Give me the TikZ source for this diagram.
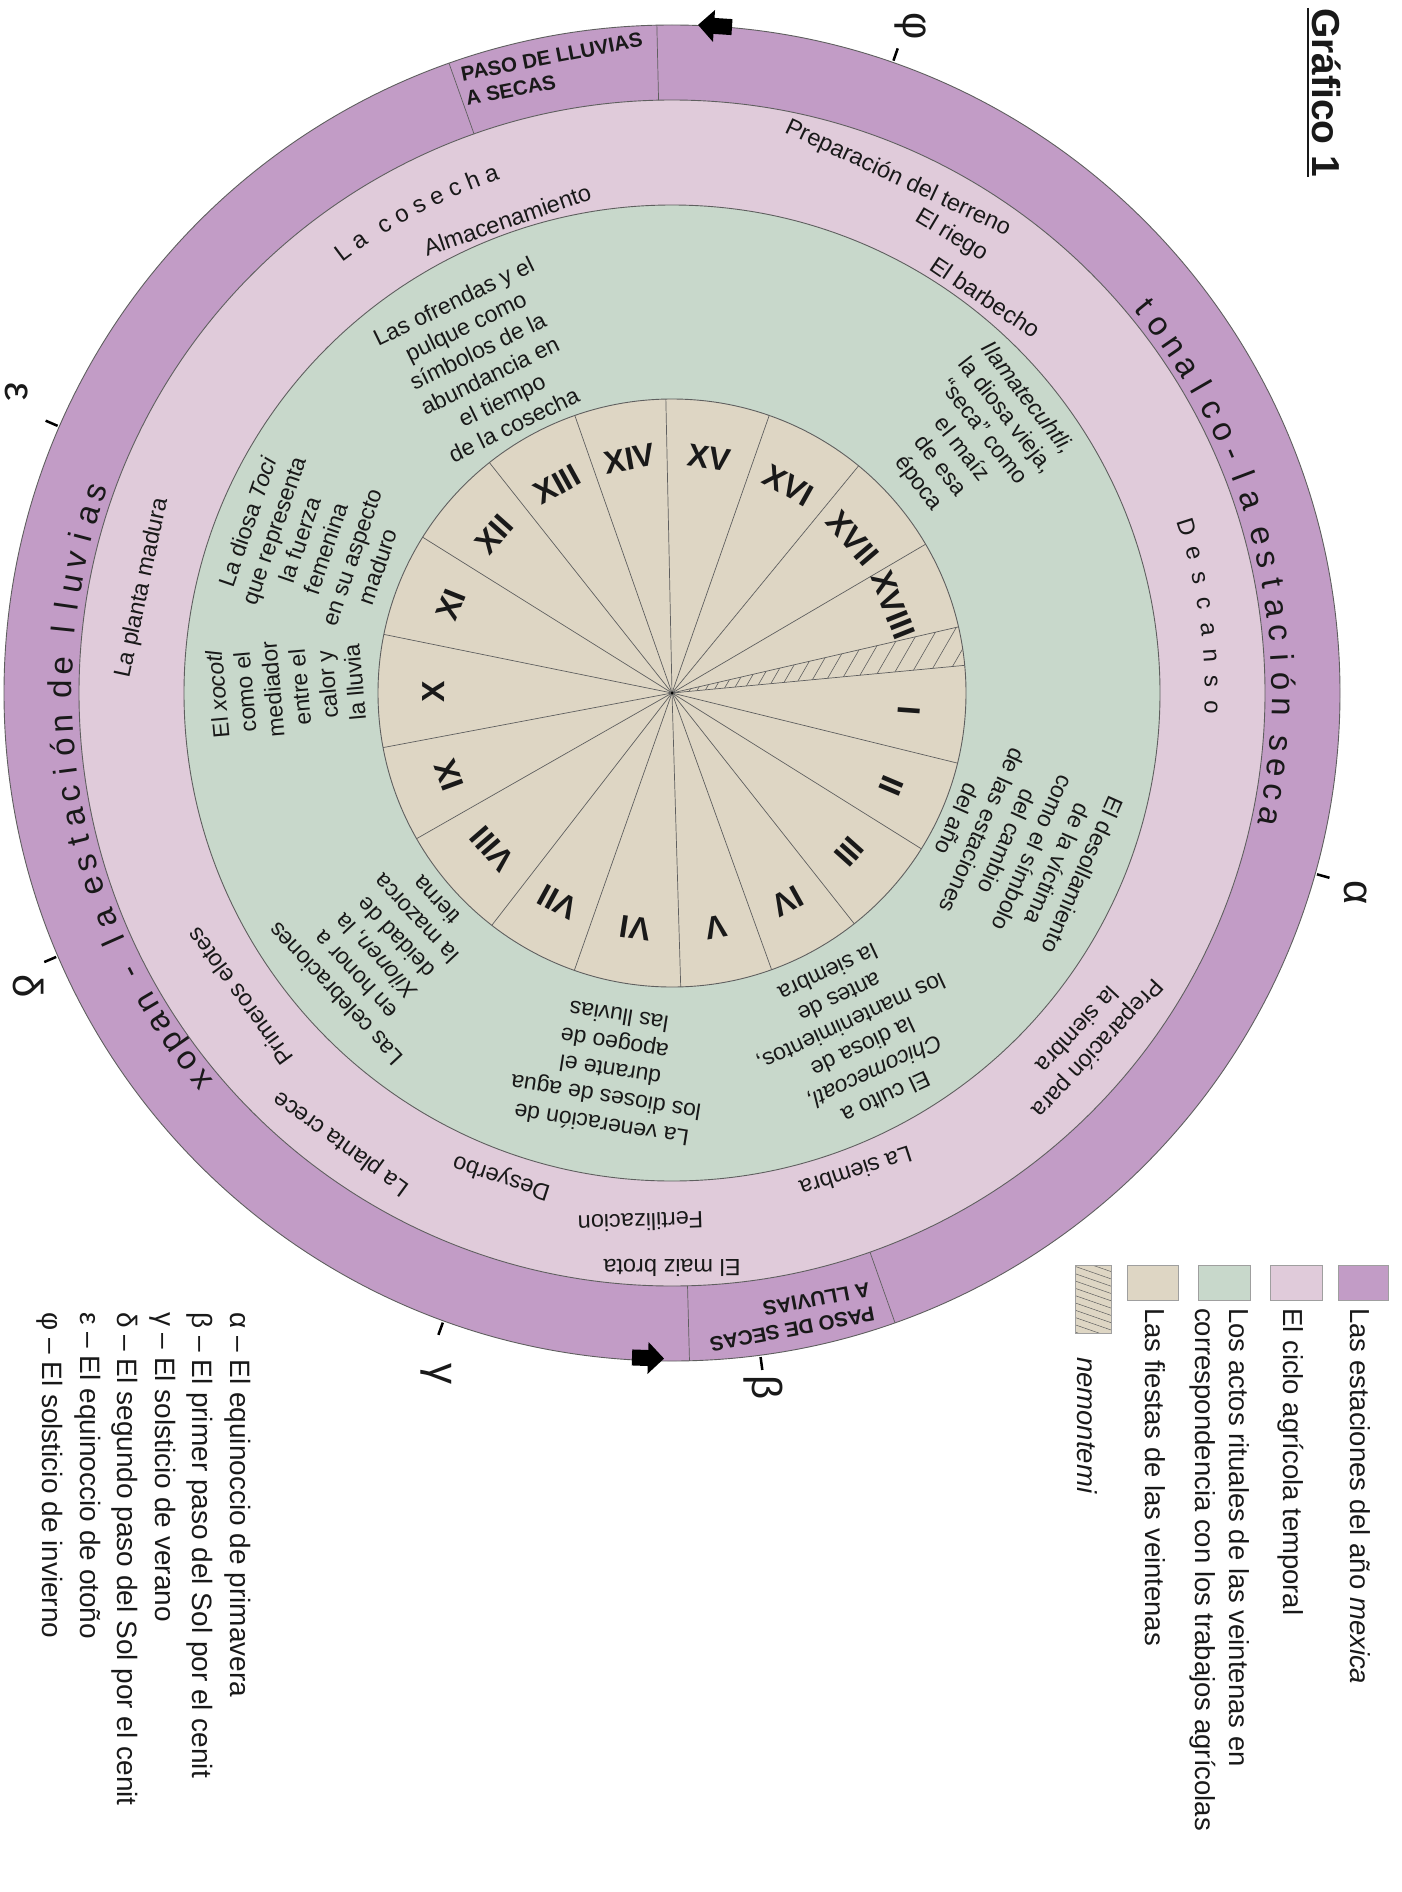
\documentclass[tikz,border=0pt]{standalone}
\usepackage{fontspec}
\setmainfont{Liberation Sans}
\usetikzlibrary{calc}
\definecolor{cPurple}{RGB}{194,156,198}
\definecolor{cPink}{RGB}{224,203,218}
\definecolor{cGreen}{RGB}{200,216,203}
\definecolor{cBeige}{RGB}{222,214,196}
\definecolor{cLine}{RGB}{95,95,95}
\definecolor{cText}{RGB}{25,25,25}
\newcommand{\fsz}[2]{\fontsize{#1}{#2}\selectfont}
\begin{document}
\begin{tikzpicture}[x=1pt,y=1pt,
  ring/.style={draw=cLine, line width=0.9},
  spoke/.style={draw=cLine, line width=0.7},
  num/.style={font=\bfseries\fsz{32}{34}, text=cText, inner sep=0},
  ritual/.style={font=\fsz{23}{27.5}, align=center, text=cText, inner sep=0},
  agri/.style={font=\fsz{23.5}{28}, text=cText, inner sep=0},
  seasonch/.style={font=\fsz{33}{36}, text=cText, inner sep=0, anchor=base},
  agrich/.style={font=\fsz{24}{28}, text=cText, inner sep=0, anchor=base},
  pasotext/.style={font=\bfseries\fsz{20.5}{25}, align=left, text=cText, inner sep=0},
  greek/.style={font=\fsz{42}{44}, text=cText, inner sep=0, rotate=-90},
  tickmark/.style={draw=black, line width=2.5},
  legtext/.style={font=\fsz{27.5}{32}, text=cText, inner sep=0, anchor=base west, rotate=-90},
  listtext/.style={font=\fsz{28}{32}, text=cText, inner sep=0, anchor=base west, rotate=-90},
  swatch/.style={draw=gray!75, line width=0.8},
]
\useasboundingbox (0,0) rectangle (1402,-1892);
\fill[white] (0,0) rectangle (1402,-1892);

\begin{scope}[shift={(672,-693)}]
  % rings
  \filldraw[ring, fill=cPurple] (0,0) circle (668);
  \filldraw[ring, fill=cPink] (0,0) circle (593);
  \filldraw[ring, fill=cGreen] (0,0) circle (488);
  \filldraw[ring, fill=cBeige] (0,0) circle (294);
  % separators in the seasons ring
  \foreach \a in {91.3,109.5,271.5,289.5} \draw[spoke] (\a:593) -- (\a:668);
  % spokes of the veintenas
  \foreach \a in {5.4,13,30.4,50.6,70.7,91.2,109.3,128.4,148,168.5,190.7,209.7,232.2,250.6,271.7,289.8,308.3,328,346.2}
    \draw[spoke] (0,0) -- (\a:294);
  % nemontemi hatch
  \begin{scope}
    \clip (0,0) -- (5.4:294) arc[start angle=5.4, end angle=13, radius=294] -- cycle;
    \foreach \k in {0,...,19} {
      \pgfmathsetmacro\rr{18+8*\k+0.35*\k*\k}
      \draw[cLine, line width=0.6] ($(9.2:\rr)+(240:30)$) -- ($(9.2:\rr)+(60:30)$);
    }
  \end{scope}
  \fill[black] (0,0) circle (1.5);
  % roman numerals
  \foreach \n/\a in {XVIII/21.7, XVII/40.5, XVI/60.65, XV/80.95, XIV/100.25, XIII/118.85, XII/138.2, XI/158.25, X/179.6, IX/200.2, VIII/220.95, VII/241.4, VI/261.15, V/280.75, IV/299.05, III/318.15, II/337.1, I/355.8}
    \node[num, rotate=\a-90] (n\n) at (\a:238) {\n};

  % seasons: curved letter-spaced texts
  \foreach \ch/\ps [count=\ci] in {t/0,o/1,n/2,a/3,l/4,c/5,o/6,-/7,l/8,a/9,e/10.5,s/11.5,t/12.5,a/13.5,c/14.5,i/15.5,ó/16.5,n/17.5,s/19,e/20,c/21,a/22} {
    \pgfmathsetmacro\an{39.3-2.318*\ps}
    \node[seasonch, rotate=\an-90] (tonalco\ci) at (\an:600) {\ch};
  }
  \foreach \ch/\ps [count=\ci] in {x/0,o/1,p/2,a/3,n/4,-/5.5,l/7,a/8,e/9.5,s/10.5,t/11.5,a/12.5,c/13.5,i/14.5,ó/15.5,n/16.5,d/18,e/19,l/20.5,l/21.5,u/22.5,v/23.5,i/24.5,a/25.5,s/26.5} {
    \pgfmathsetmacro\an{219.4-2.21*\ps}
    \node[seasonch, rotate=\an-90] (xopan\ci) at (\an:600) {\ch};
  }
  \node[pasotext, rotate=11] (paso1) at (100.7:635) {PASO DE LLUVIAS\\A SECAS};
  \node[pasotext, rotate=190.7] (paso2) at (280.7:635) {PASO DE SECAS\\A LLUVIAS};

  % agricultural cycle
  \foreach \ch/\ps [count=\ci] in {L/0,a/1,c/2.5,o/3.5,s/4.5,e/5.5,c/6.5,h/7.5,a/8.5} {
    \pgfmathsetmacro\an{126.7-2.06*\ps}
    \node[agrich, rotate=\an-90] (cosecha\ci) at (\an:542) {\ch};
  }
  \foreach \ch/\ps [count=\ci] in {D/0,e/1,s/2,c/3,a/4,n/5,s/6,o/7} {
    \pgfmathsetmacro\an{17.8-2.757*\ps}
    \node[agrich, rotate=\an-90] (descanso\ci) at (\an:533) {\ch};
  }
  \node[agri, rotate=19] (almac) at (109.2:501) {Almacenamiento};
  \node[agri, rotate=-25] (prepter) at (66.3:562) {Preparación del terreno};
  \node[agri, rotate=-31] (riego) at (58.6:536) {El riego};
  \node[agri, rotate=-34] (barb) at (51.6:505) {El barbecho};
  \node[agri, rotate=-133, align=center] (prepsi) at (-39.8:542) {Preparación para\\la siembra};
  \node[agri, rotate=-162] (siembra) at (-69:513) {La siembra};
  \node[agri, rotate=182] (fert) at (266.6:530) {Fertilizacion};
  \node[agri, rotate=180] (brota) at (270:575) {El maiz brota};
  \node[agri, rotate=162] (desy) at (250.6:513) {Desyerbo};
  \node[agri, rotate=144] (crece) at (233.7:558) {La planta crece};
  \node[agri, rotate=126] (elotes) at (215.1:528) {Primeros elotes};
  \node[agri, rotate=78] (madura) at (168.8:540) {La planta madura};

  % ritual acts
  \node[ritual, rotate=26] (g1) at (119.7:380) {Las ofrendas y el\\pulque como\\símbolos de la\\abundancia en\\el tiempo\\de la cosecha};
  \node[ritual, rotate=-52] (g2) at (40:392) {\textit{Ilamatecuhtli,}\\la diosa vieja,\\“seca” como\\el maíz\\de esa\\época};
  \node[ritual, rotate=-114] (g3) at (-23.9:381) {El desollamiento\\de la víctima\\como el símbolo\\del cambio\\de las estaciones\\del año};
  \node[ritual, rotate=-155] (g4) at (-61.6:389) {El culto a\\\textit{Chicomecoatl,}\\la diosa de\\los mantenimientos,\\antes de\\la siembra};
  \node[ritual, rotate=171] (g5) at (260.7:383) {La veneración de\\los dioses de agua\\durante el\\apogeo de\\las lluvias};
  \node[ritual, rotate=133] (g6) at (221.6:383) {Las celebraciones\\en honor a\\\textit{Xilonen}, la\\deidad de\\la mazorca\\tierna};
  \node[ritual, rotate=95] (g7) at (179.3:386) {El \textit{xocotl}\\como el\\mediador\\entre el\\calor y\\la lluvia};
  \node[ritual, rotate=71] (g8) at (157.5:389) {La diosa \textit{Toci}\\que representa\\la fuerza\\femenina\\en su aspecto\\maduro};

  % ticks of the solar points
  \foreach \a in {70.7,-15.7,156.5,203.2,250,277.6} \draw[tickmark] (\a:670) -- (\a:683);
\end{scope}

% block arrows
\fill[black, rotate around={-3.7:(715,-26)}] (698,-26) -- (714,-10) -- (714,-18) -- (732,-18) -- (732,-34) -- (714,-34) -- (714,-42) -- cycle;
\fill[black, rotate around={-2:(648,-1358)}] (664,-1358) -- (648,-1342) -- (648,-1350) -- (632,-1350) -- (632,-1366) -- (648,-1366) -- (648,-1374) -- cycle;

% greek markers
\node[greek] (mphi) at (910,-26) {φ};
\node[greek] (malpha) at (1356,-893) {α};
\node[greek] (mbeta) at (763,-1388) {β};
\node[greek] (mgamma) at (436,-1374) {γ};
\node[greek] (mdelta) at (29,-986) {δ};
\node[greek] (meps) at (17,-392) {ε};

% title
\node[font=\bfseries\fsz{39}{42}, text=cText, rotate=-90, anchor=base west, inner sep=0] (title) at (1312,-8) {Gráfico 1};
\draw[line width=2.2, cText] ([xshift=-4]title.base west) -- ([xshift=-4]title.base east);

% legend swatches
\filldraw[swatch, fill=cPurple] (1338,-1265) rectangle (1388,-1300);
\filldraw[swatch, fill=cPink] (1270,-1265) rectangle (1322,-1300);
\filldraw[swatch, fill=cGreen] (1198,-1265) rectangle (1250,-1300);
\filldraw[swatch, fill=cBeige] (1127,-1265) rectangle (1178,-1300);
\filldraw[swatch, fill=cBeige] (1075,-1265) rectangle (1111,-1333);
\begin{scope}
  \clip (1075,-1265) rectangle (1111,-1333);
  \foreach \k in {0,...,13} \draw[cLine, line width=0.5] (1070,-1250-7.3*\k) -- (1116,-1266-7.3*\k);
\end{scope}
\draw[swatch] (1075,-1265) rectangle (1111,-1333);

% legend texts
\node[legtext] (leg1) at (1350,-1308) {Las estaciones del año \textit{mexica}};
\node[legtext] (leg2) at (1283,-1308) {El ciclo agrícola temporal};
\node[legtext] (leg3a) at (1229,-1308) {Los actos rituales de las veintenas en};
\node[legtext] (leg3b) at (1195,-1308) {correspondencia con los trabajos agrícolas};
\node[legtext] (leg4) at (1145,-1308) {Las fiestas de las veintenas};
\node[legtext] (leg5) at (1077,-1357) {\textit{nemontemi}};

% greek list
\node[listtext] (ga) at (230,-1312) {α – El equinoccio de primavera};
\node[listtext] (gb) at (192.5,-1312) {β – El primer paso del Sol por el cenit};
\node[listtext] (gc) at (155,-1312) {γ – El solsticio de verano};
\node[listtext] (gd) at (117.5,-1312) {δ – El segundo paso del Sol por el cenit};
\node[listtext] (ge) at (80,-1312) {ε – El equinoccio de otoño};
\node[listtext] (gf) at (42.5,-1312) {φ – El solsticio de invierno};
\end{tikzpicture}
\end{document}
